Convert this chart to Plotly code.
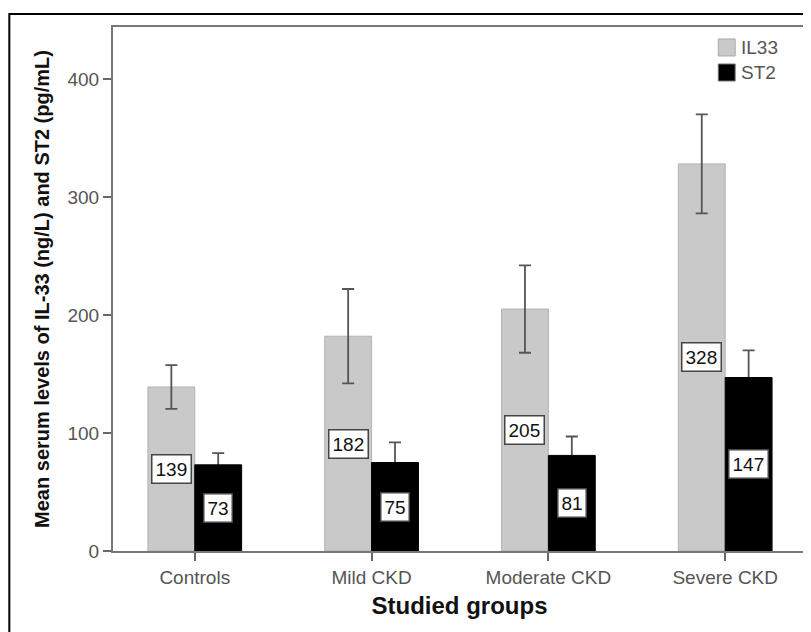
import plotly.graph_objects as go

groups = ["Controls", "Mild CKD", "Moderate CKD", "Severe CKD"]
il33 = [139, 182, 205, 328]
il33_err = [18.5, 40, 37, 42]
st2 = [73, 75, 81, 147]
st2_err = [10, 17, 16, 23]
series_names = ["IL33", "ST2"]

xi = list(range(len(groups)))
off = 0.1325
bw = 0.265
font = "Liberation Sans, Arial, sans-serif"
il33_color = "#c9c9c9"
st2_color = "#000000"
err_style = dict(type="data", color="#555555", thickness=1.8, width=6)

fig = go.Figure()
fig.add_trace(go.Bar(
    x=[i - off for i in xi], y=il33, width=bw, name=series_names[0], showlegend=False,
    marker=dict(color=il33_color, line=dict(color="#b3b3b3", width=1)),
    error_y=dict(array=il33_err, **err_style),
))
# ST2 error bars drawn first so the black bar hides their lower half
fig.add_trace(go.Bar(
    x=[i + off for i in xi], y=st2, width=bw, name=series_names[1], showlegend=False,
    marker=dict(color="rgba(0,0,0,0)", line=dict(width=0)), hoverinfo="skip",
    error_y=dict(array=st2_err, **err_style),
))
fig.add_trace(go.Bar(
    x=[i + off for i in xi], y=st2, width=bw, name=series_names[1], showlegend=False,
    marker=dict(color=st2_color, line=dict(color="#000000", width=1)),
))

for i in xi:
    for xv, v in ((i - off, il33[i]), (i + off, st2[i])):
        fig.add_annotation(
            x=xv, y=v / 2, text=str(v), showarrow=False,
            font=dict(family=font, size=19, color="#111111"),
            bgcolor="white", bordercolor="#444444", borderwidth=1.5, borderpad=3,
        )

# manual legend (top-right inside the plot)
leg = [(series_names[0], il33_color, "#a8a8a8", 0.9771, 0.9447),
       (series_names[1], st2_color, "#777777", 0.9294, 0.8969)]
for name, col, bcol, y1, y0 in leg:
    fig.add_shape(type="rect", xref="paper", yref="paper",
                  x0=0.8734, x1=0.8978, y0=y0, y1=y1,
                  fillcolor=col, line=dict(color=bcol, width=1))
    fig.add_annotation(xref="paper", yref="paper", x=0.9035, y=(y0 + y1) / 2,
                       xanchor="left", yanchor="middle", text=name, showarrow=False,
                       font=dict(family=font, size=19, color="#555555"))

# outer frame of the figure
fig.add_shape(type="rect", xref="paper", yref="paper",
              x0=-0.1496, x1=1.05, y0=-0.3, y1=1.0248,
              line=dict(color="black", width=2), layer="above")

fig.update_layout(
    width=803, height=624,
    margin=dict(l=105, r=3, t=19, b=81),
    paper_bgcolor="white", plot_bgcolor="white",
    barmode="overlay", showlegend=False,
    font=dict(family=font, color="#555555"),
    xaxis=dict(
        range=[-0.4625, 3.457], tickvals=xi, ticktext=groups,
        showgrid=False, zeroline=False, showline=True, mirror=True,
        linecolor="#777777", linewidth=2,
        ticks="outside", ticklen=8, tickcolor="#666666", tickwidth=2,
        tickfont=dict(size=19, color="#555555"),
        title=dict(text="<b>Studied groups</b>", font=dict(size=24, color="#111111"), standoff=10),
    ),
    yaxis=dict(
        range=[0, 444], tickvals=[0, 100, 200, 300, 400],
        showgrid=False, zeroline=False, showline=True, mirror=True,
        linecolor="#777777", linewidth=2,
        ticks="outside", ticklen=8, tickcolor="#666666", tickwidth=2,
        tickfont=dict(size=19, color="#555555"),
        title=dict(text="<b>Mean serum levels of IL-33 (ng/L) and ST2 (pg/mL)</b>",
                   font=dict(size=20, color="#111111"), standoff=12),
    ),
)

fig.write_html("out.html")
